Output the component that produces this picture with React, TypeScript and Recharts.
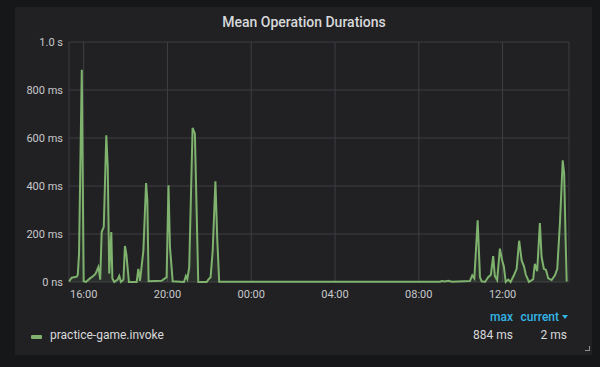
import { ComposedChart, Area, XAxis, YAxis, CartesianGrid } from 'recharts';

// hours since midnight of day one (values > 24 are the next day)
const times = [
  15.3, 15.43, 15.67, 15.72, 15.78, 15.91, 16.0, 16.11, 16.3, 16.46, 16.57, 16.7, 16.75, 16.79,
  16.86, 16.96, 17.08, 17.15, 17.22, 17.32, 17.37, 17.46, 17.62, 17.7, 17.78, 17.9, 17.97, 18.04,
  18.16, 18.53, 18.61, 18.69, 18.85, 18.98, 19.04, 19.1, 19.72, 19.88, 19.96, 20.05, 20.12, 20.25,
  20.79, 20.88, 20.95, 21.04, 21.2, 21.31, 21.4, 21.47, 21.87, 21.95, 22.06, 22.16, 22.29, 22.38,
  22.47, 33.01, 33.1, 33.25, 33.4, 33.58, 34.44, 34.55, 34.65, 34.81, 34.92, 35.0, 35.16, 35.31,
  35.44, 35.55, 35.63, 35.74, 35.87, 35.98, 36.06, 36.15, 36.27, 36.38, 36.54, 36.67, 36.79, 36.91,
  37.02, 37.11, 37.26, 37.46, 37.54, 37.65, 37.78, 37.86, 37.97, 38.07, 38.18, 38.34, 38.5, 38.61,
  38.74, 38.87, 38.94, 39.01, 39.06,
];

// mean duration in ms
const durations = [
  2, 18, 22, 30, 120, 884, 3, 0, 15, 25, 35, 62, 35, 10,
  208, 230, 611, 480, 35, 208, 15, 0, 10, 25, 0, 10, 150, 115,
  0, 0, 55, 5, 130, 412, 340, 3, 5, 15, 20, 403, 146, 3,
  0, 25, 12, 62, 642, 618, 270, 0, 0, 10, 20, 130, 420, 174,
  1, 1, 4, 2, 5, 1, 4, 28, 15, 257, 20, 3, 0, 20,
  30, 108, 25, 8, 139, 90, 65, 0, 10, 0, 28, 55, 172, 90,
  65, 30, 0, 12, 76, 45, 246, 105, 55, 50, 15, 8, 28, 55,
  250, 507, 450, 170, 2,
];

const xTicks = [16, 20, 24, 28, 32, 36];
const yTicks = [0, 200, 400, 600, 800, 1000];

const seriesName = 'practice-game.invoke';
const statLabels = ['max', 'current'];
const statValues = ['884 ms', '2 ms'];

const data = times.map((t, i) => ({ t, v: durations[i] }));

const formatY = (v: number) => (v === 0 ? '0 ns' : v >= 1000 ? `${(v / 1000).toFixed(1)} s` : `${v} ms`);
const formatX = (t: number) => `${String(t % 24).padStart(2, '0')}:00`;

const font = 'Roboto, "Helvetica Neue", Arial, sans-serif';
const green = '#7eb26d';
const blue = '#33b5e5';

export default function App() {
  return (
    <div
      style={{
        position: 'absolute',
        left: 0,
        top: 0,
        width: 600,
        height: 367,
        background: '#161719',
        fontFamily: font,
        overflow: 'hidden',
      }}
    >
      <div style={{ position: 'absolute', left: 15, top: 7, width: 577, height: 348, background: '#212124' }} />

      <div
        style={{
          position: 'absolute',
          left: 0,
          width: 608,
          top: 14,
          textAlign: 'center',
          color: '#d8d9da',
          fontSize: 14,
          fontWeight: 500,
        }}
      >
        Mean Operation Durations
      </div>

      <div style={{ position: 'absolute', left: 0, top: 0 }}>
        <ComposedChart width={600} height={367} data={data} margin={{ top: 42, right: 31, left: 9, bottom: 65 }}>
          <CartesianGrid stroke="#3f3f42" />
          <XAxis
            dataKey="t"
            type="number"
            domain={[15.3, 39.17]}
            ticks={xTicks}
            tickFormatter={formatX}
            axisLine={false}
            tickLine={false}
            tickSize={0}
            tickMargin={8}
            height={20}
            tick={{ fill: '#c8c9cb', fontSize: 11, fontFamily: font }}
          />
          <YAxis
            type="number"
            domain={[0, 1000]}
            ticks={yTicks}
            tickFormatter={formatY}
            axisLine={false}
            tickLine={false}
            tickSize={0}
            tickMargin={6}
            width={60}
            tick={{ fill: '#c8c9cb', fontSize: 11, fontFamily: font }}
          />
          <Area
            type="linear"
            dataKey="v"
            stroke={green}
            strokeWidth={2}
            fill={green}
            fillOpacity={0.1}
            dot={false}
            activeDot={false}
            isAnimationActive={false}
          />
        </ComposedChart>
      </div>

      {/* legend table */}
      <div style={{ position: 'absolute', top: 310, right: 600 - 513, color: blue, fontSize: 12, fontWeight: 500 }}>
        {statLabels[0]}
      </div>
      <div
        style={{
          position: 'absolute',
          top: 310,
          right: 600 - 568,
          color: blue,
          fontSize: 12,
          fontWeight: 500,
          display: 'flex',
          alignItems: 'center',
        }}
      >
        {statLabels[1]}
        <span
          style={{
            marginLeft: 3,
            width: 0,
            height: 0,
            borderLeft: '3px solid transparent',
            borderRight: '3px solid transparent',
            borderTop: '4px solid ' + blue,
          }}
        />
      </div>
      <div style={{ position: 'absolute', left: 31, top: 335, width: 11, height: 4, background: green, borderRadius: 1 }} />
      <div style={{ position: 'absolute', left: 50, top: 328, color: '#d8d9da', fontSize: 12 }}>{seriesName}</div>
      <div style={{ position: 'absolute', top: 328, right: 600 - 513, color: '#d8d9da', fontSize: 12 }}>
        {statValues[0]}
      </div>
      <div style={{ position: 'absolute', top: 328, right: 600 - 567, color: '#d8d9da', fontSize: 12 }}>
        {statValues[1]}
      </div>
      <div
        style={{
          position: 'absolute',
          left: 585,
          top: 346,
          width: 4,
          height: 4,
          borderRight: '1px solid #8e8e8e',
          borderBottom: '1px solid #8e8e8e',
        }}
      />
    </div>
  );
}
